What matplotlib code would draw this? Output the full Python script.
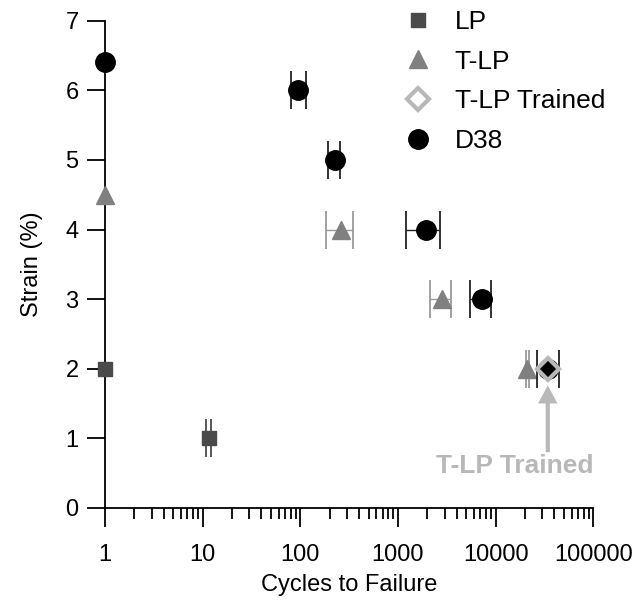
import matplotlib
matplotlib.use("Agg")
import matplotlib.pyplot as plt
from matplotlib.lines import Line2D
import numpy as np

plt.rcParams['font.family'] = ['Liberation Sans', 'DejaVu Sans']

# data: cycles to failure, strain, and x-error range (low, high)
lp_x = [1, 11.6]
lp_y = [2, 1]
lp_lo = [1, 10.8]
lp_hi = [1, 12.3]

tlp_x = [1, 262, 2795, 20850]
tlp_y = [4.5, 4, 3, 2]
tlp_lo = [1, 185, 2122, 20230]
tlp_hi = [1, 347, 3530, 21860]

d38_x = [1, 95, 226, 1960, 7180, 34200]
d38_y = [6.4, 6, 5, 4, 3, 2]
d38_lo = [1, 80, 193, 1205, 5445, 26220]
d38_hi = [1, 115, 254, 2685, 9040, 44670]

trained_x = [34200]
trained_y = [2]

c_lp = '#4a4a4a'
c_tlp = '#808080'
c_trained = '#b8b8b8'


def xerr(x, lo, hi):
    x = np.array(x, float)
    return [x - np.array(lo, float), np.array(hi, float) - x]


fig = plt.figure(figsize=(6.4, 6.09), dpi=100)
ax = fig.add_axes([0.164, 0.166, 0.763, 0.800])

eb = dict(elinewidth=1, capsize=14, capthick=1.3, errorevery=(1, 1))
ax.errorbar(lp_x, lp_y, xerr=xerr(lp_x, lp_lo, lp_hi), fmt='s', ms=10,
            color=c_lp, ecolor=c_lp, zorder=3, **eb)
ax.errorbar(tlp_x, tlp_y, xerr=xerr(tlp_x, tlp_lo, tlp_hi), fmt='^', ms=13,
            color=c_tlp, ecolor='#9a9a9a', zorder=3, **eb)
ax.plot(trained_x, trained_y, 'D', ms=11, mfc='none', mec=c_trained, mew=3,
        ls='none', zorder=5)
ax.errorbar(d38_x, d38_y, xerr=xerr(d38_x, d38_lo, d38_hi), fmt='o', ms=14,
            color='black', ecolor='#222222', zorder=4, **eb)
for art in ax.lines:
    art.set_clip_on(False)

# arrow + label for the trained sample
ax.annotate('', xy=(34200, 1.76), xytext=(34200, 0.8),
            arrowprops=dict(width=3, headwidth=14, headlength=13, shrink=0,
                            color=c_trained, lw=0))
ax.text(15700, 0.6, 'T-LP Trained', color=c_trained, fontsize=19,
        fontweight='bold', ha='center', va='center')

ax.set_xscale('log')
ax.set_xlim(1, 100000)
ax.set_ylim(0, 7)
ax.set_xticks([1, 10, 100, 1000, 10000, 100000])
ax.set_xticklabels(['1', '10', '100', '1000', '10000', '100000'])
ax.set_yticks(range(8))
ax.set_xlabel('Cycles to Failure', fontsize=17, labelpad=6)
ax.set_ylabel('Strain (%)', fontsize=17, labelpad=16)

for s in ['top', 'right']:
    ax.spines[s].set_visible(False)
for s in ['left', 'bottom']:
    ax.spines[s].set_linewidth(1.3)

ax.tick_params(axis='both', which='major', direction='out', width=1.3,
               labelsize=17, color='black')
ax.tick_params(axis='x', which='major', length=14, pad=12)
ax.tick_params(axis='y', which='major', length=13, pad=6)
ax.tick_params(axis='x', which='minor', length=8, width=1.3)

handles = [
    Line2D([], [], marker='s', ms=10, color=c_lp, ls='none'),
    Line2D([], [], marker='^', ms=13, color=c_tlp, ls='none'),
    Line2D([], [], marker='D', ms=11, mfc='none', mec=c_trained, mew=3, ls='none'),
    Line2D([], [], marker='o', ms=14, color='black', ls='none'),
]
labels = ['LP', 'T-LP', 'T-LP Trained', 'D38']
ax.legend(handles, labels, loc='upper left', bbox_to_anchor=(0.622, 0.984),
          bbox_transform=fig.transFigure, frameon=False, fontsize=19,
          handlelength=1.5, handletextpad=0.65, labelspacing=0.6,
          borderpad=0, borderaxespad=0)

fig.savefig('out.png', dpi=100)
